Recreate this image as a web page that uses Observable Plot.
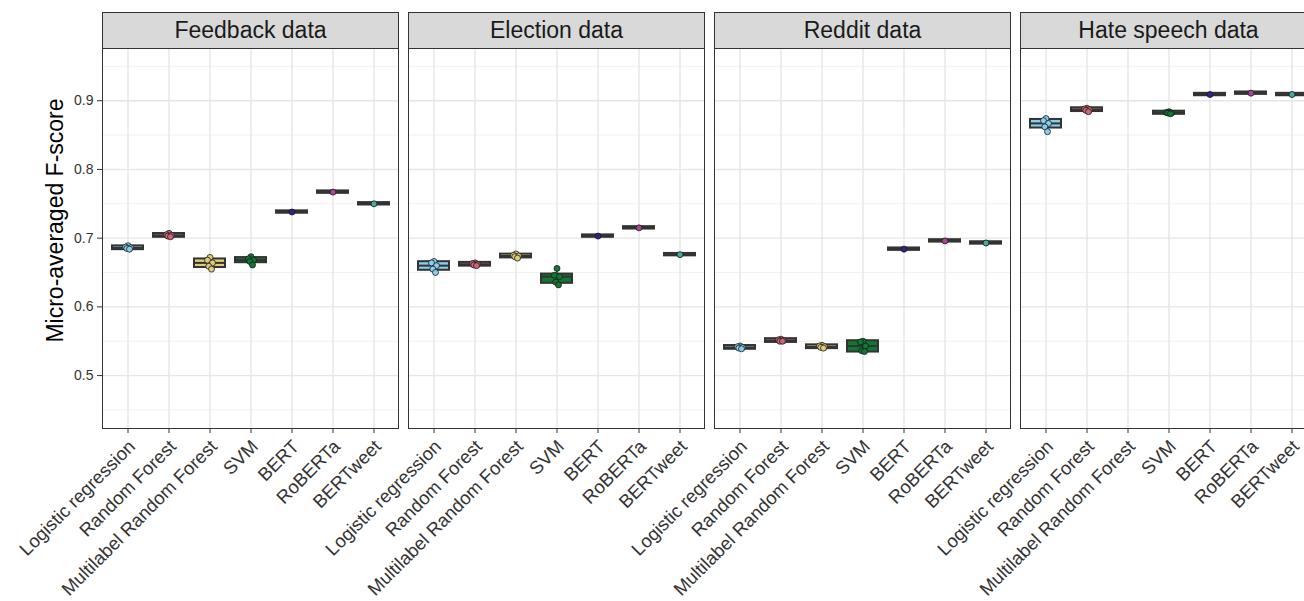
<!DOCTYPE html>
<html><head><meta charset="utf-8">
<script src="https://cdn.jsdelivr.net/npm/d3@7"></script>
<script src="https://cdn.jsdelivr.net/npm/@observablehq/plot@0.6"></script>
<style>
html,body{margin:0;padding:0;background:#fff;overflow:hidden;}
#chart{width:1316px;}
#chart svg{font-family:"Liberation Sans",Arial,sans-serif;}
</style>
</head><body><div id="chart"></div>
<script>
const datasets = ["Feedback data", "Election data", "Reddit data", "Hate speech data"];
const models = ["Logistic regression", "Random Forest", "Multilabel Random Forest", "SVM", "BERT", "RoBERTa", "BERTweet"];
const modelColors = ["#88CCEE", "#CC6677", "#DDCC77", "#117733", "#332288", "#AA4499", "#44AA99"];

// runs per model, in model order (null = not evaluated)
const feedbackScores = [
  [0.689, 0.687, 0.686, 0.685, 0.684],
  [0.707, 0.705, 0.704, 0.703, 0.702],
  [0.672, 0.668, 0.664, 0.659, 0.655],
  [0.673, 0.670, 0.668, 0.666, 0.661],
  [0.738],
  [0.767],
  [0.750]
];
const electionScores = [
  [0.666, 0.664, 0.660, 0.655, 0.650],
  [0.664, 0.663, 0.662, 0.661, 0.660],
  [0.677, 0.675, 0.674, 0.673, 0.671],
  [0.656, 0.646, 0.644, 0.636, 0.632],
  [0.703],
  [0.715],
  [0.676]
];
const redditScores = [
  [0.543, 0.542, 0.541, 0.540, 0.539],
  [0.553, 0.552, 0.551, 0.550, 0.550],
  [0.544, 0.543, 0.542, 0.541, 0.540],
  [0.550, 0.549, 0.543, 0.536, 0.535],
  [0.684],
  [0.696],
  [0.693]
];
const hateScores = [
  [0.874, 0.871, 0.867, 0.862, 0.855],
  [0.889, 0.888, 0.887, 0.886, 0.884],
  null,
  [0.884, 0.883, 0.882, 0.882, 0.881],
  [0.909],
  [0.911],
  [0.909]
];
const yTicks = [0.5, 0.6, 0.7, 0.8, 0.9];
const yMinorTicks = [0.45, 0.55, 0.65, 0.75, 0.85, 0.95];
const yTitle = "Micro-averaged F-score";

const jitterPx = [0, -2.5, 2.5, -1.2, 1.5];

const rows = [];
[feedbackScores, electionScores, redditScores, hateScores].forEach((arr, di) => {
  arr.forEach((vals, mi) => {
    if (!vals) return;
    vals.forEach((v, run) => rows.push({dataset: datasets[di], model: models[mi], score: v, run}));
  });
});

const quant = (p) => (V) => d3.quantile(V.slice().sort(d3.ascending), p);
const loW = (V) => { const s = V.slice().sort(d3.ascending); const q1 = d3.quantile(s, .25), q3 = d3.quantile(s, .75); return d3.min(s.filter(v => v >= q1 - 1.5 * (q3 - q1))); };
const hiW = (V) => { const s = V.slice().sort(d3.ascending); const q1 = d3.quantile(s, .25), q3 = d3.quantile(s, .75); return d3.max(s.filter(v => v <= q3 + 1.5 * (q3 - q1))); };

const W = 1316, H = 601, mL = 102, mR = 0, mT = 48, mB = 173;
const frameH = H - mT - mB;
const stripH = 36;
const common = {x: "model", y: "score", fx: "dataset"};

const dotMarks = jitterPx.map((dx, i) =>
  Plot.dot(rows.filter(r => r.run === i), {...common, fill: "model", stroke: "#1a1a1a", strokeWidth: 0.8, r: 3, dx})
);

const chart = Plot.plot({
  width: W, height: H,
  marginLeft: mL, marginRight: mR, marginTop: mT, marginBottom: mB,
  style: {fontFamily: '"Liberation Sans", Arial, sans-serif', background: "#fff"},
  fx: {domain: datasets, paddingInner: 0.03268, paddingOuter: 0, axis: null, label: null},
  x: {domain: models, paddingInner: 0.25, paddingOuter: 0.225, label: null},
  y: {domain: [0.423, 0.976], label: null},
  color: {domain: models, range: modelColors},
  marks: [
    Plot.gridY(yMinorTicks, {stroke: "#ebebeb", strokeOpacity: 1, strokeWidth: 0.7}),
    Plot.gridY(yTicks, {stroke: "#e6e6e6", strokeOpacity: 1, strokeWidth: 1.4}),
    Plot.gridX(models, {stroke: "#e6e6e6", strokeOpacity: 1, strokeWidth: 1.4}),
    Plot.ruleX(rows, Plot.groupX({y1: loW, y2: hiW}, {...common, stroke: "#333", strokeWidth: 1.2})),
    Plot.barY(rows, Plot.groupX({y1: quant(0.25), y2: quant(0.75)}, {...common, fill: "model", stroke: "#333", strokeWidth: 2, insetTop: -1.2, insetBottom: -1.2})),
    Plot.tickY(rows, Plot.groupX({y: quant(0.5)}, {...common, stroke: "#333", strokeWidth: 2})),
    ...dotMarks,
    Plot.frame({fill: "#d9d9d9", stroke: "#333", strokeWidth: 1, insetTop: -stripH, insetBottom: frameH}),
    Plot.text(datasets, {fx: d => d, text: d => d, frameAnchor: "top", lineAnchor: "middle", dy: -stripH / 2, fontSize: 23, fill: "#1a1a1a"}),
    Plot.frame({stroke: "#333", strokeWidth: 1}),
    Plot.axisY({ticks: yTicks, tickFormat: d3.format(".1f"), label: null, fontSize: 14, tickSize: 5, tickPadding: 4, color: "#333"}),
    Plot.axisX({tickSize: 5, tickFormat: () => "", color: "#333", label: null}),
    Plot.axisX({tickRotate: -45, fontSize: 18.5, tickSize: 0, tickPadding: 8, dx: 4, dy: 7, color: "#333", label: null}),
    Plot.text([yTitle], {fx: () => datasets[0], text: d => d, frameAnchor: "left", textAnchor: "middle", lineAnchor: "middle", rotate: -90, dx: -47, dy: -stripH / 2, fontSize: 23, fill: "#000"})
  ]
});
document.getElementById("chart").appendChild(chart);
</script>
</body></html>
